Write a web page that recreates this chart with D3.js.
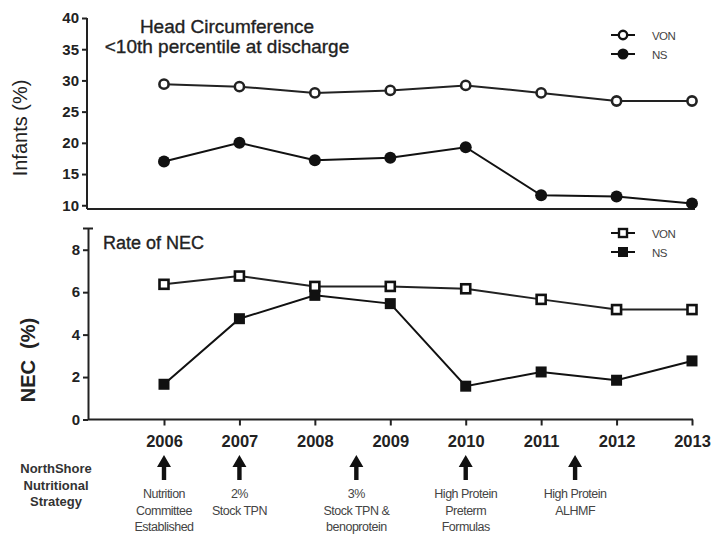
<!DOCTYPE html>
<html>
<head>
<meta charset="utf-8">
<script src="https://cdn.jsdelivr.net/npm/d3@7"></script>
<style>
  body { margin: 0; background: #fff; }
  text { font-family: "Liberation Sans", Arial, sans-serif; }
</style>
</head>
<body>
<script>

// data
var years = [2006, 2007, 2008, 2009, 2010, 2011, 2012, 2013];
var hcVON = [29.4, 29.0, 28.0, 28.4, 29.2, 28.0, 26.7, 26.7];
var hcNS  = [17.0, 20.0, 17.2, 17.6, 19.3, 11.6, 11.4, 10.3];
var necVON = [6.37, 6.76, 6.27, 6.27, 6.16, 5.66, 5.18, 5.18];
var necNS  = [1.66, 4.75, 5.85, 5.46, 1.57, 2.24, 1.85, 2.76];
var hcTicks = [10, 15, 20, 25, 30, 35, 40];
var necTicks = [0, 2, 4, 6, 8];
var eventYears = [2006, 2007, 2008.55, 2010, 2011.45];
var eventLabels = [
    ["Nutrition", "Committee", "Established"],
    ["2%", "Stock TPN"],
    ["3%", "Stock TPN &", "benoprotein"],
    ["High Protein", "Preterm", "Formulas"],
    ["High Protein", "ALHMF"]
];
var strategyLabel = ["NorthShore", "Nutritional", "Strategy"];

function plot_it() {
    var W = 712, H = 534;
    var svg = d3.select("body").append("svg")
        .attr("width", W)
        .attr("height", H);

    var x = d3.scaleLinear().domain([2006, 2013]).range([164, 692]);
    var yTop = d3.scaleLinear().domain([9.4, 40]).range([209, 18]);
    var yBot = d3.scaleLinear().domain([0, 9]).range([419.5, 228.5]);

    var axisX0 = 87, axisX1 = 695;

    // ---------- top panel: head circumference ----------
    var top = svg.append("g");

    var yAxisTop = d3.axisLeft(yTop).tickValues(hcTicks).tickSize(5).tickPadding(3).tickSizeOuter(0);
    var ga = top.append("g").attr("transform", "translate(" + axisX0 + ",0)").call(yAxisTop);
    styleAxis(ga);
    ga.select(".domain").attr("d", "M0," + yTop(40) + "V" + yTop.range()[0]);

    top.append("line")
        .attr("x1", axisX0).attr("x2", axisX1)
        .attr("y1", yTop.range()[0]).attr("y2", yTop.range()[0])
        .attr("stroke", "#222").attr("stroke-width", 2);

    var lineTop = d3.line().x(function (d, i) { return x(years[i]); }).y(function (d) { return yTop(d); });

    top.append("path").datum(hcVON).attr("d", lineTop)
        .attr("fill", "none").attr("stroke", "#222").attr("stroke-width", 2);
    top.append("path").datum(hcNS).attr("d", lineTop)
        .attr("fill", "none").attr("stroke", "#111").attr("stroke-width", 2);

    top.selectAll(".von").data(hcVON).enter().append("circle")
        .attr("cx", function (d, i) { return x(years[i]); })
        .attr("cy", function (d) { return yTop(d); })
        .attr("r", 4.6)
        .attr("fill", "#fff").attr("stroke", "#222").attr("stroke-width", 2.6);
    top.selectAll(".ns").data(hcNS).enter().append("circle")
        .attr("cx", function (d, i) { return x(years[i]); })
        .attr("cy", function (d) { return yTop(d); })
        .attr("r", 6)
        .attr("fill", "#111");

    top.append("text").attr("x", 227).attr("y", 33).attr("text-anchor", "middle")
        .style("font-size", "19px").attr("fill", "#222").attr("stroke", "#222").attr("stroke-width", 0.35)
        .text("Head Circumference");
    top.append("text").attr("x", 227).attr("y", 53).attr("text-anchor", "middle")
        .style("font-size", "19px").attr("fill", "#222").attr("stroke", "#222").attr("stroke-width", 0.35)
        .text("<10th percentile at discharge");

    top.append("text")
        .attr("transform", "translate(27,128)rotate(-90)")
        .attr("text-anchor", "middle")
        .style("font-size", "20px").attr("fill", "#222")
        .text("Infants (%)");

    legend(top, 35, "circle");

    // ---------- bottom panel: NEC ----------
    var bot = svg.append("g");

    var yAxisBot = d3.axisLeft(yBot).tickValues(necTicks).tickSize(5).tickPadding(3).tickSizeOuter(0);
    var gb = bot.append("g").attr("transform", "translate(" + (axisX0 + 1) + ",0)").call(yAxisBot);
    styleAxis(gb);
    gb.append("line").attr("x1", -5).attr("x2", 5)
        .attr("y1", yBot(9)).attr("y2", yBot(9))
        .attr("stroke", "#222").attr("stroke-width", 2);

    var xAxisBot = d3.axisBottom(x).tickValues(years).tickFormat(d3.format("d"))
        .tickSize(6).tickPadding(10).tickSizeOuter(0);
    var gx = bot.append("g").attr("transform", "translate(0," + yBot(0) + ")").call(xAxisBot);
    styleAxis(gx);
    gx.select(".domain").attr("d", "M" + (axisX0 + 1) + ",0H693");
    gx.selectAll("text").style("font-size", "16.5px");

    var lineBot = d3.line().x(function (d, i) { return x(years[i]); }).y(function (d) { return yBot(d); });
    bot.append("path").datum(necVON).attr("d", lineBot)
        .attr("fill", "none").attr("stroke", "#222").attr("stroke-width", 2);
    bot.append("path").datum(necNS).attr("d", lineBot)
        .attr("fill", "none").attr("stroke", "#111").attr("stroke-width", 2);

    var s = 11;
    bot.selectAll(".von").data(necVON).enter().append("rect")
        .attr("x", function (d, i) { return x(years[i]) - (s - 2) / 2; })
        .attr("y", function (d) { return yBot(d) - (s - 2) / 2; })
        .attr("width", s - 2).attr("height", s - 2)
        .attr("fill", "#fff").attr("stroke", "#111").attr("stroke-width", 2.6);
    bot.selectAll(".ns").data(necNS).enter().append("rect")
        .attr("x", function (d, i) { return x(years[i]) - s / 2; })
        .attr("y", function (d) { return yBot(d) - s / 2; })
        .attr("width", s).attr("height", s)
        .attr("fill", "#111");

    bot.append("text").attr("x", 103).attr("y", 249)
        .style("font-size", "18px").attr("fill", "#222").attr("stroke", "#222").attr("stroke-width", 0.35)
        .text("Rate of NEC");

    bot.append("text")
        .attr("transform", "translate(35,360)rotate(-90)")
        .attr("text-anchor", "middle")
        .style("font-size", "20px").style("font-weight", "bold").attr("fill", "#222")
        .attr("xml:space", "preserve")
        .text("NEC  (%)");

    legend(bot, 233, "square");

    // ---------- strategy timeline ----------
    var tl = svg.append("g");
    tl.selectAll(".sl").data(strategyLabel).enter().append("text")
        .attr("x", 56).attr("y", function (d, i) { return 473 + i * 16.5; })
        .attr("text-anchor", "middle")
        .style("font-size", "13px").style("font-weight", "bold").attr("fill", "#333")
        .text(function (d) { return d; });

    var ev = tl.selectAll(".ev").data(eventYears).enter().append("g")
        .attr("transform", function (d) { return "translate(" + x(d) + ",0)"; });

    ev.append("path")
        .attr("d", "M0,455L7,467L2.2,467L2.2,480L-2.2,480L-2.2,467L-7,467Z")
        .attr("fill", "#111");

    ev.each(function (d, i) {
        d3.select(this).selectAll("text").data(eventLabels[i]).enter().append("text")
            .attr("x", 0).attr("y", function (t, j) { return 498 + j * 16.5; })
            .attr("text-anchor", "middle")
            .style("font-size", "12.5px").style("letter-spacing", "-0.5px").attr("fill", "#444")
            .text(function (t) { return t; });
    });

    function styleAxis(g) {
        g.select(".domain").attr("stroke", "#222").attr("stroke-width", 2);
        g.selectAll(".tick line").attr("stroke", "#222").attr("stroke-width", 2);
        g.selectAll(".tick text")
            .style("font-size", "15px").style("font-weight", "bold")
            .attr("fill", "#222");
    }

    function legend(g, y0, shape) {
        var lg = g.append("g");
        [["VON", false], ["NS", true]].forEach(function (item, i) {
            var cy = y0 + i * 19;
            lg.append("line").attr("x1", 611).attr("x2", 635)
                .attr("y1", cy).attr("y2", cy)
                .attr("stroke", "#111").attr("stroke-width", 2);
            if (shape === "circle") {
                lg.append("circle").attr("cx", 623).attr("cy", cy)
                    .attr("r", item[1] ? 5.5 : 4.2)
                    .attr("fill", item[1] ? "#111" : "#fff")
                    .attr("stroke", "#111").attr("stroke-width", item[1] ? 0 : 2.4);
            } else {
                var ss = item[1] ? 10 : 8;
                lg.append("rect").attr("x", 623 - ss / 2).attr("y", cy - ss / 2)
                    .attr("width", ss).attr("height", ss)
                    .attr("fill", item[1] ? "#111" : "#fff")
                    .attr("stroke", "#111").attr("stroke-width", item[1] ? 0 : 2.4);
            }
            lg.append("text").attr("x", 652).attr("y", cy + 4.5)
                .style("font-size", "11.5px").style("letter-spacing", "-0.6px").attr("fill", "#444")
                .text(item[0]);
        });
    }
}

plot_it();
</script>
</body>
</html>
